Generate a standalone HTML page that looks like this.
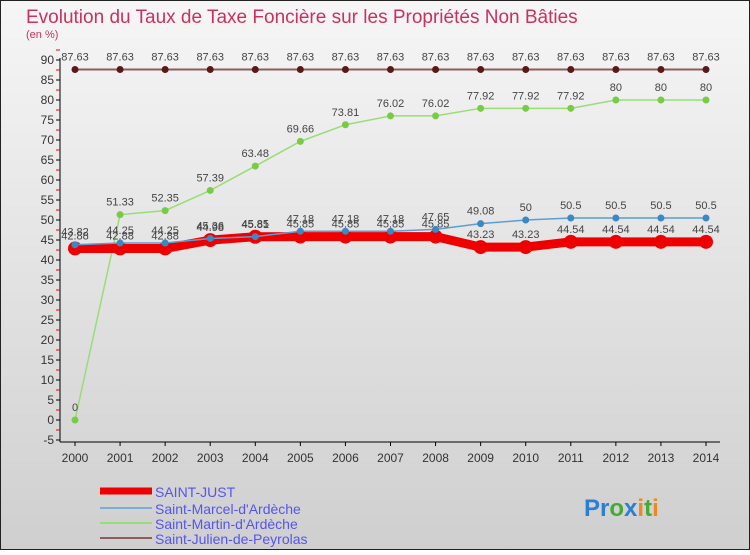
<!DOCTYPE html>
<html><head><meta charset="utf-8"><style>
body{margin:0}
#c{width:750px;height:550px;position:relative;font-family:"Liberation Sans",sans-serif}
</style></head><body>
<div id="c">
<svg id="s" width="750" height="550" xmlns="http://www.w3.org/2000/svg">
<defs><linearGradient id="bg" x1="0" y1="0" x2="0" y2="1"><stop offset="0" stop-color="#f6f6f6"/><stop offset="1" stop-color="#cfcfcf"/></linearGradient></defs>
<rect x="0.5" y="0.5" width="749" height="549" fill="url(#bg)" stroke="#222"/>
<text x="26" y="23" font-size="19" fill="#c8325f">Evolution du Taux de Taxe Foncière sur les Propriétés Non Bâties</text>
<text x="26" y="38" font-size="11" fill="#c8325f">(en %)</text>
<g id="axes"></g><g id="series"></g>
<g>
<line x1="100" y1="491" x2="152" y2="491" stroke="#e00" stroke-width="7"/>
<text x="155" y="497" font-size="14" fill="#5555ee">SAINT-JUST</text>
<line x1="100" y1="508" x2="152" y2="508" stroke="#7aaed3" stroke-width="2"/>
<text x="155" y="514" font-size="14" fill="#5555ee">Saint-Marcel-d'Ardèche</text>
<line x1="100" y1="523" x2="152" y2="523" stroke="#99dd77" stroke-width="2"/>
<text x="155" y="529" font-size="14" fill="#5555ee">Saint-Martin-d'Ardèche</text>
<line x1="100" y1="538" x2="152" y2="538" stroke="#8b5d5d" stroke-width="2"/>
<text x="155" y="544" font-size="14" fill="#5555ee">Saint-Julien-de-Peyrolas</text>
</g>
<text x="584" y="516" font-size="24" font-weight="bold"><tspan fill="#2a7fd4">Pr</tspan><tspan fill="#44aa33">o</tspan><tspan fill="#2a7fd4">x</tspan><tspan fill="#ee8822">i</tspan><tspan fill="#44aa33">t</tspan><tspan fill="#ee8822">i</tspan></text>
</svg></div>
<script>
const years=[2000,2001,2002,2003,2004,2005,2006,2007,2008,2009,2010,2011,2012,2013,2014];
const yTicks=[-5,0,5,10,15,20,25,30,35,40,45,50,55,60,65,70,75,80,85,90];
const saintJust=[42.88,42.88,42.88,44.98,45.81,45.85,45.85,45.85,45.85,43.23,43.23,44.54,44.54,44.54,44.54];
const saintMarcel=[43.82,44.25,44.25,45.36,45.85,47.18,47.18,47.18,47.65,49.08,50,50.5,50.5,50.5,50.5];
const saintMartin=[0,51.33,52.35,57.39,63.48,69.66,73.81,76.02,76.02,77.92,77.92,77.92,80,80,80];
const saintJulien=[87.63,87.63,87.63,87.63,87.63,87.63,87.63,87.63,87.63,87.63,87.63,87.63,87.63,87.63,87.63];
const NS="http://www.w3.org/2000/svg";
const X=i=>75+i*(706-75)/(years.length-1);
const Y=v=>420-v*4;
function mk(t,a,p){const e=document.createElementNS(NS,t);for(const k in a)e.setAttribute(k,a[k]);p.appendChild(e);return e;}
const ax=document.getElementById('axes');
const yax=mk('line',{x1:60,y1:58,x2:60,y2:442,stroke:'#000'},ax);


const xax=mk('line',{x1:60,y1:442,x2:720,y2:442,stroke:'#000'},ax);


yTicks.forEach(v=>{
 mk('line',{x1:56,y1:Y(v),x2:60,y2:Y(v),stroke:'#000'},ax);
 mk('line',{x1:56,y1:Y(v)-10,x2:60,y2:Y(v)-10,stroke:'#e00'},ax);
 const t=mk('text',{x:54,y:Y(v)+4,'font-size':12,'text-anchor':'end',fill:'#333'},ax);t.textContent=v;
 
 
});
years.forEach((yr,i)=>{
 mk('line',{x1:X(i),y1:442,x2:X(i),y2:446,stroke:'#000'},ax);
 const t=mk('text',{x:X(i),y:462,'font-size':12,'text-anchor':'middle',fill:'#333'},ax);t.textContent=yr;
 
 
});
const sg=document.getElementById('series');
function draw(vals,color,w,r,fill,name){
 const g=mk('g',{},sg);
 
 
 mk('polyline',{points:vals.map((v,i)=>X(i)+','+Y(v)).join(' '),fill:'none',stroke:color,'stroke-width':w},g);
 vals.forEach((v,i)=>{
  const c=mk('circle',{cx:X(i),cy:Y(v),r:r,fill:fill},g);
  
  
  const t=mk('text',{x:X(i),y:Y(v)-9,'font-size':11,'text-anchor':'middle',fill:'#444'},g);t.textContent=v;
 });
}
draw(saintJulien,'#8b5d5d',2,3.5,'#5a1818','series-saint-julien');
draw(saintMartin,'#99dd77',1.5,3.5,'#77cc44','series-saint-martin');
draw(saintJust,'#e00',9,7,'#e00','series-saint-just');
draw(saintMarcel,'#5a9ed3',1.5,3.5,'#3a88c4','series-saint-marcel');
</script>
</body></html>
